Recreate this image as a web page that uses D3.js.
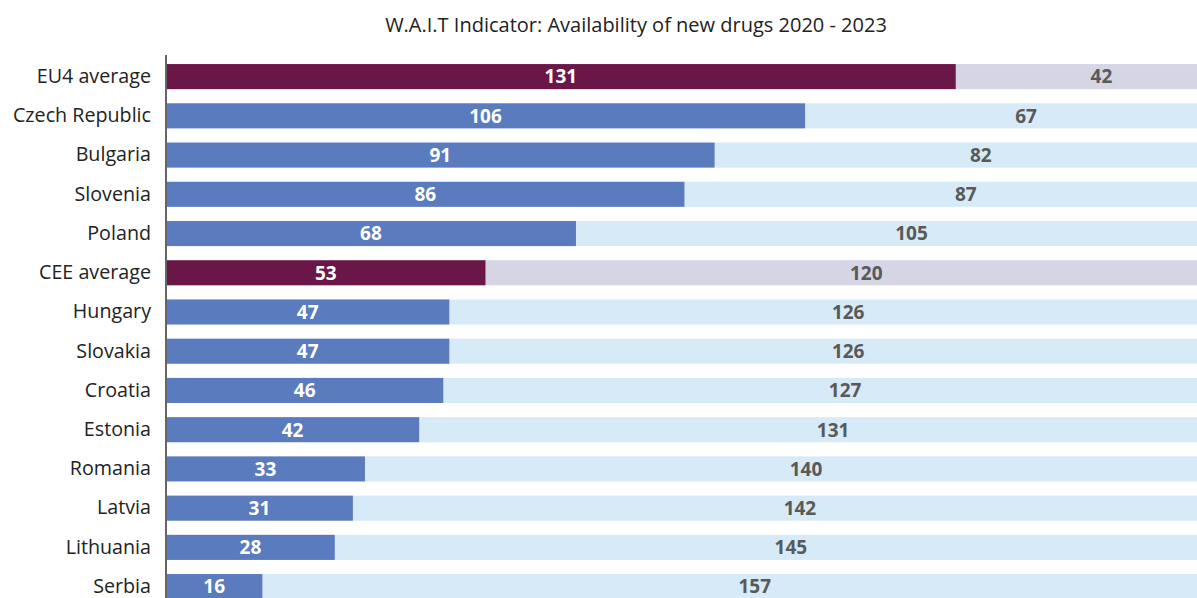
<!DOCTYPE html>
<html>
<head>
<meta charset="utf-8">
<script src="https://cdn.jsdelivr.net/npm/d3@7"></script>
<style>
  body { margin: 0; background: #fff; }
  svg { display: block; font-family: "Open Sans", "Noto Sans", sans-serif; }
</style>
</head>
<body>
<svg id="chart"></svg>
<script>
// W.A.I.T indicator - available vs not available new drugs (of 173)
var countries = ["EU4 average", "Czech Republic", "Bulgaria", "Slovenia", "Poland", "CEE average",
  "Hungary", "Slovakia", "Croatia", "Estonia", "Romania", "Latvia", "Lithuania", "Serbia"];
var available = [131, 106, 91, 86, 68, 53, 47, 47, 46, 42, 33, 31, 28, 16];
var notAvailable = [42, 67, 82, 87, 105, 120, 126, 126, 127, 131, 140, 142, 145, 157];
var averages = ["EU4 average", "CEE average"];

const width = 1197, height = 598;
const margin = {top: 57, left: 166};

var svg = d3.select("#chart").attr("width", width).attr("height", height);

var rows = countries.map(function(c, i) {
  return {name: c, avail: available[i], notAvail: notAvailable[i], avg: averages.indexOf(c) >= 0};
});

var x = d3.scaleLinear()
  .domain([0, d3.max(rows, d => d.avail + d.notAvail)])
  .range([margin.left, 1209]);

var y = d3.scaleBand()
  .domain(countries)
  .range([margin.top, margin.top + 39.23 * countries.length])
  .paddingInner(0.36)
  .paddingOuter(0.18);

// title
svg.append("text")
  .attr("x", 636).attr("y", 32)
  .attr("text-anchor", "middle")
  .attr("font-size", 20)
  .attr("fill", "#222")
  .text("W.A.I.T Indicator: Availability of new drugs 2020 - 2023");

var g = svg.selectAll("g.row").data(rows).enter().append("g").attr("class", "row");

// not available (background part)
g.append("rect")
  .attr("x", d => x(d.avail))
  .attr("y", d => y(d.name))
  .attr("width", d => x(d.avail + d.notAvail) - x(d.avail))
  .attr("height", y.bandwidth())
  .attr("fill", d => d.avg ? "#d6d5e6" : "#d6ebf7");

// available
g.append("rect")
  .attr("x", x(0))
  .attr("y", d => y(d.name))
  .attr("width", d => x(d.avail) - x(0))
  .attr("height", y.bandwidth())
  .attr("fill", d => d.avg ? "#6a1648" : "#5a7bbd");

g.append("text")
  .attr("x", d => (x(0) + x(d.avail)) / 2)
  .attr("y", d => y(d.name) + y.bandwidth() / 2)
  .attr("dy", "0.36em")
  .attr("text-anchor", "middle")
  .attr("font-size", 19)
  .attr("font-weight", "bold")
  .attr("fill", "#fff")
  .text(d => d.avail);

// labels of the right part sit a bit right of the visible centre (bar runs off the page)
g.append("text")
  .attr("x", d => (x(d.avail) + x(d.avail + d.notAvail)) / 2 + 19)
  .attr("y", d => y(d.name) + y.bandwidth() / 2)
  .attr("dy", "0.36em")
  .attr("text-anchor", "middle")
  .attr("font-size", 19)
  .attr("font-weight", "bold")
  .attr("fill", "#595959")
  .text(d => d.notAvail);

// y axis
var yAxis = d3.axisLeft(y).tickSize(0).tickPadding(15);
var yG = svg.append("g")
  .attr("transform", "translate(" + margin.left + ",0)")
  .call(yAxis);
yG.select(".domain").remove();
yG.selectAll("text")
  .attr("font-size", 19.7)
  .attr("fill", "#222")
  .attr("font-family", "'Open Sans', 'Noto Sans', sans-serif");

svg.append("line")
  .attr("x1", margin.left).attr("x2", margin.left)
  .attr("y1", margin.top - 2).attr("y2", height)
  .attr("stroke", "#666")
  .attr("stroke-width", 2);
</script>
</body>
</html>
